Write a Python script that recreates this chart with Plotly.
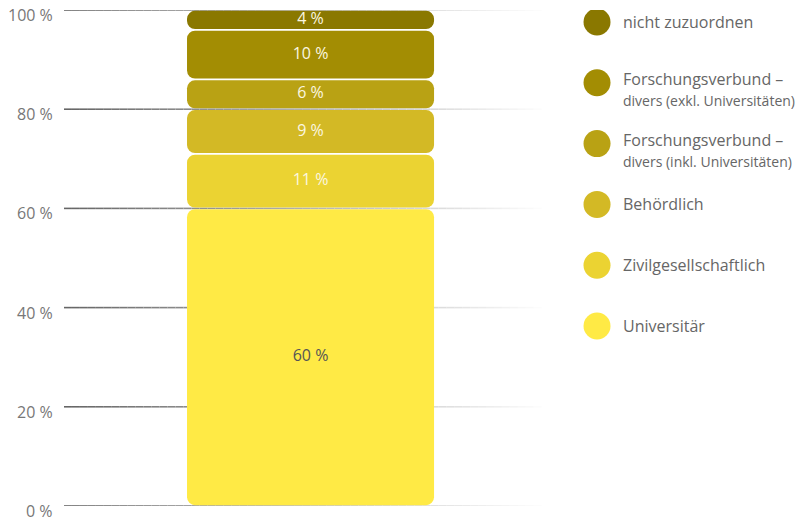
import numpy as np
import plotly.graph_objects as go

# shares by type of institution (stacked bottom -> top)
categories = ["Universitär", "Zivilgesellschaftlich", "Behördlich",
              "Forschungsverbund – divers (inkl. Universitäten)",
              "Forschungsverbund – divers (exkl. Universitäten)",
              "nicht zuzuordnen"]
values = [60, 11, 9, 6, 10, 4]
colors = ["#ffea45", "#ebd332", "#d3b925", "#b9a214", "#a38d03", "#8a7800"]
label_colors = ["#555555", "#fbf7e0", "#fbf7e0", "#fbf7e0", "#fbf7e0", "#fbf7e0"]

# legend entries, top -> bottom
legend_labels = [
    "nicht zuzuordnen",
    "Forschungsverbund –<br><span style='font-size:14px'>divers (exkl. Universitäten)</span>",
    "Forschungsverbund –<br><span style='font-size:14px'>divers (inkl. Universitäten)</span>",
    "Behördlich",
    "Zivilgesellschaftlich",
    "Universitär",
]
legend_colors = colors[::-1]

tick_vals = [0, 20, 40, 60, 80, 100]
tick_text = [f"{v} %" for v in tick_vals]

FONT = "Open Sans"
gap = 0.35

cum = np.concatenate([[0], np.cumsum(values)])
fig = go.Figure()

mids = []
for i, v in enumerate(values):
    bot = cum[i] + gap / 2
    top = cum[i + 1] - gap / 2
    mids.append((bot + top) / 2)
    fig.add_trace(go.Bar(
        x=[0], y=[top - bot], base=[bot], width=1,
        marker=dict(color=colors[i], line=dict(width=0), cornerradius=8),
        showlegend=False, hoverinfo="skip",
    ))

fig.add_trace(go.Scatter(
    x=[0] * len(values), y=mids, mode="text",
    text=[f"{v} %" for v in values],
    textfont=dict(family=FONT, size=16, color=label_colors),
    showlegend=False, hoverinfo="skip",
))

# custom legend on its own axes
fig.add_trace(go.Scatter(
    x=[0] * len(legend_labels), y=list(range(len(legend_labels))),
    mode="markers", marker=dict(size=27, color=legend_colors, line=dict(width=0)),
    xaxis="x2", yaxis="y2", showlegend=False, hoverinfo="skip",
))
for i, lab in enumerate(legend_labels):
    fig.add_annotation(
        x=0, y=i, xref="x2", yref="y2", text=lab, showarrow=False,
        xanchor="left", yanchor="middle", align="left", xshift=24,
        yshift=-6 if "<br>" in lab else 0,
        font=dict(family=FONT, size=16, color="#666666"),
    )

# y tick labels, sitting just below their grid line
for v, t in zip(tick_vals, tick_text):
    fig.add_annotation(
        x=0, y=v, xref="x domain", yref="y", text=t, showarrow=False,
        xanchor="right", yanchor="middle", xshift=-10, yshift=-5,
        borderpad=0,
        font=dict(family=FONT, size=16, color="#777777"),
    )

# fading grid lines
n_seg = 60
for v in tick_vals:
    for k in range(n_seg):
        t = k / n_seg
        c = int(102 + (255 - 102) * t)
        fig.add_shape(
            type="line", xref="x domain", yref="y",
            x0=t, x1=(k + 1) / n_seg, y0=v, y1=v,
            line=dict(color=f"rgb({c},{c},{c})", width=1.6),
            layer="below",
        )

fig.update_layout(
    width=799, height=522,
    margin=dict(l=64, r=0, t=10, b=16, autoexpand=False),
    paper_bgcolor="white", plot_bgcolor="white",
    barmode="overlay",
    showlegend=False,
    xaxis=dict(domain=[0, 0.65], range=[-0.998, 0.936], visible=False, fixedrange=True),
    yaxis=dict(range=[0, 100], visible=False, automargin=False, fixedrange=True),
    xaxis2=dict(domain=[0.70, 1], range=[-0.84, 9.16], visible=False, fixedrange=True),
    yaxis2=dict(domain=[0, 1], range=[7.96, -0.197], visible=False, anchor="x2",
                fixedrange=True),
)

fig.write_html("out.html", config={"displayModeBar": False},
               post_script="document.body.style.margin='0';")
